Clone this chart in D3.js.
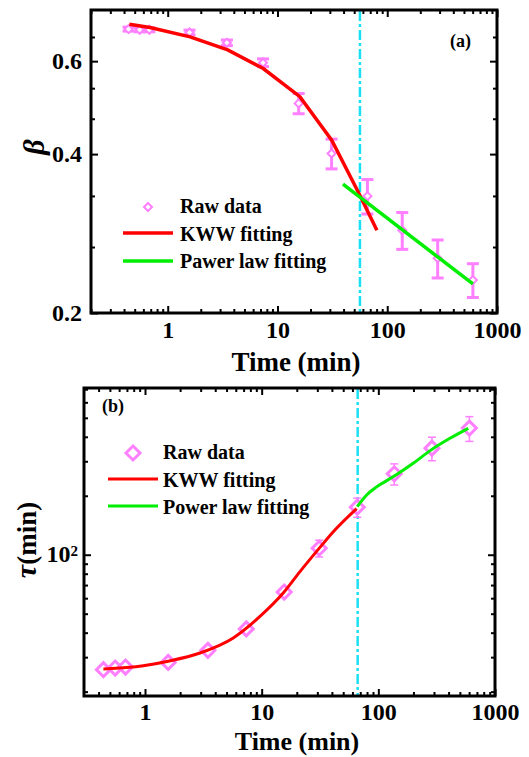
<!DOCTYPE html>
<html>
<head>
<meta charset="utf-8">
<script src="https://cdn.jsdelivr.net/npm/d3@7"></script>
<style>
  body { margin: 0; background: #fff; }
  svg text { font-family: "Liberation Serif", "Times New Roman", serif; font-weight: bold; fill: #000; }
</style>
</head>
<body>
<svg id="chart" width="529" height="757"></svg>
<script>
// Ageing times (min), shared by both panels
const times = [0.44, 0.555, 0.68, 1.58, 3.46, 7.38, 15.6, 31.1, 66, 137, 288, 603];

// (a) stretching exponent beta with error
const beta    = [0.690, 0.688, 0.688, 0.680, 0.650, 0.596, 0.499, 0.401, 0.333, 0.287, 0.254, 0.231];
const betaErr = [0.006, 0.006, 0.006, 0.007, 0.008, 0.010, 0.022, 0.026, 0.025, 0.023, 0.021, 0.017];
// KWW fit of beta
const kwwBetaT = [0.447, 0.69, 1.6, 3.52, 7.42, 16.0, 31.2, 54.4, 80.5];
const kwwBeta  = [0.705, 0.695, 0.667, 0.630, 0.581, 0.514, 0.425, 0.339, 0.287];
// power-law fit of beta
const powBetaT = [39.5, 603];
const powBeta  = [0.351, 0.227];
const crossA = 56.4;

// (b) relaxation time tau (min) with error
const tau    = [25.9, 26.4, 26.7, 28.2, 32.5, 41.8, 64.5, 108, 175, 259, 350, 443];
const tauErr = [1, 1, 1, 1, 1.5, 2, 3, 10.6, 19.6, 32, 48, 64];
// KWW fit of tau
const kwwTauT = [0.44, 0.967, 1.58, 2.96, 5.71, 9.67, 15.3, 21.3, 31.6, 41.1, 65.2];
const kwwTau  = [26.1, 27.1, 28.6, 31.5, 37.6, 48.4, 63.7, 82, 109, 131, 172];
// power-law fit of tau
const powTauT = [65.9, 79.4, 96.7, 137, 199, 282, 411, 590];
const powTau  = [176, 202, 222, 252, 293, 342, 393, 442];
const crossB = 66.5;

// tick values
const xMajor = [1, 10, 100, 1000];
const xMinorA = [0.2,0.3,0.4,0.5,0.6,0.7,0.8,0.9, 2,3,4,5,6,7,8,9, 20,30,40,50,60,70,80,90, 200,300,400,500,600,700,800,900];
const xMinorB = [0.4,0.5,0.6,0.7,0.8,0.9, 2,3,4,5,6,7,8,9, 20,30,40,50,60,70,80,90, 200,300,400,500,600,700,800,900];
const yMajorA = [0.2, 0.4, 0.6];
const yMinorA = [0.2667, 0.3333, 0.4667, 0.5333, 0.6667];
const yMajorB = [100];
const yMinorB = [20,30,40,50,60,70,80,90, 200,300,400,500,600,700];

const PINK = "#ff80ff", RED = "#ff0000", GREEN = "#00ee00", CYAN = "#19e0f5";

const svg = d3.select("#chart");

// scales
const xA = d3.scaleLog().domain([0.2, 1000]).range([91, 497]);
const yA = d3.scaleLog().domain([0.2, 0.75]).range([313, 10]);
const xB = d3.scaleLog().domain([0.3, 1000]).range([84, 495]);
const yB = d3.scaleLog().domain([19, 710]).range([696, 388]);

function frameAxes(x, y, o) {
  const g = svg.append("g");
  const [x0, x1] = x.range(), [y0, y1] = y.range();
  const add = (axis, tr, vals, size, fmt, pad) => {
    const a = g.append("g").attr("transform", tr)
      .call(axis.tickValues(vals).tickSize(size).tickPadding(pad || 3).tickFormat(fmt || ""));
    a.select(".domain").remove();
    a.selectAll(".tick line").attr("stroke", "#000").attr("stroke-width", 2);
    a.selectAll("text").style("font-size", "24px");
    return a;
  };
  add(d3.axisBottom(x), `translate(0,${y0})`, xMajor, -7, d => d3.format("d")(d), o.xPad);
  add(d3.axisBottom(x), `translate(0,${y0})`, o.xMinor, -4);
  add(d3.axisTop(x), `translate(0,${y1})`, xMajor, -7);
  add(d3.axisTop(x), `translate(0,${y1})`, o.xMinor, -4);
  if (o.yFmt) add(d3.axisLeft(y), `translate(${x0},0)`, o.yMajor, -7, o.yFmt, 9);
  else add(d3.axisLeft(y), `translate(${x0},0)`, o.yMajor, -7);
  add(d3.axisLeft(y), `translate(${x0},0)`, o.yMinor, -4);
  add(d3.axisRight(y), `translate(${x1},0)`, o.yMajor, -7);
  add(d3.axisRight(y), `translate(${x1},0)`, o.yMinor, -4);
  g.append("rect").attr("x", x0).attr("y", y1).attr("width", x1 - x0).attr("height", y0 - y1)
    .attr("fill", "none").attr("stroke", "#000").attr("stroke-width", 3);
  return g;
}

function diamond(g, cx, cy, r, sw) {
  g.append("path")
    .attr("d", `M${cx},${cy - r}L${cx + r},${cy}L${cx},${cy + r}L${cx - r},${cy}Z`)
    .attr("fill", "#fff").attr("stroke", PINK).attr("stroke-width", sw);
}

function vline(x, xv, y) {
  svg.append("line")
    .attr("x1", x(xv)).attr("x2", x(xv)).attr("y1", y.range()[1] + 1).attr("y2", y.range()[0])
    .attr("stroke", CYAN).attr("stroke-width", 2.5).attr("stroke-dasharray", "10,3,3,3");
}

// ---------- panel (a) ----------
vline(xA, crossA, yA);
const dataA = times.map((t, i) => ({ t, v: beta[i], e: betaErr[i] }));
const gA = svg.append("g");
dataA.forEach(d => {
  const cx = xA(d.t), yt = yA(d.v + d.e), yb = yA(d.v - d.e);
  gA.append("line").attr("x1", cx).attr("x2", cx).attr("y1", yt).attr("y2", yb).attr("stroke", PINK).attr("stroke-width", 3);
  [yt, yb].forEach(yy => gA.append("line").attr("x1", cx - 6).attr("x2", cx + 6).attr("y1", yy).attr("y2", yy).attr("stroke", PINK).attr("stroke-width", 3));
  diamond(gA, cx, yA(d.v), 4, 2);
});
const lineA = d3.line().x(d => xA(d[0])).y(d => yA(d[1]));
svg.append("path").datum(kwwBetaT.map((t, i) => [t, kwwBeta[i]])).attr("d", lineA)
  .attr("fill", "none").attr("stroke", RED).attr("stroke-width", 3.5);
svg.append("path").datum(powBetaT.map((t, i) => [t, powBeta[i]])).attr("d", lineA)
  .attr("fill", "none").attr("stroke", GREEN).attr("stroke-width", 3.5);

frameAxes(xA, yA, { xMinor: xMinorA, yMajor: yMajorA, yMinor: yMinorA, yFmt: d3.format(".1f"), xPad: 8 });

// legend (a)
diamond(svg, 148, 207, 4, 2);
svg.append("line").attr("x1", 123).attr("x2", 173).attr("y1", 233).attr("y2", 233).attr("stroke", RED).attr("stroke-width", 3.5);
svg.append("line").attr("x1", 123).attr("x2", 173).attr("y1", 261).attr("y2", 261).attr("stroke", GREEN).attr("stroke-width", 3.5);
[["Raw data", 213], ["KWW fitting", 241], ["Pawer law fitting", 268]].forEach(([s, y]) =>
  svg.append("text").attr("x", 180).attr("y", y).style("font-size", "20px").text(s));
svg.append("text").attr("x", 450).attr("y", 47).style("font-size", "18px").text("(a)");

svg.append("text").attr("x", 296).attr("y", 371).attr("text-anchor", "middle").style("font-size", "27px").text("Time (min)");
svg.append("text").attr("transform", "translate(33,147) rotate(-90)").attr("text-anchor", "middle").attr("dy", "0.35em")
  .style("font-size", "30px").style("font-style", "italic").text("β");

// ---------- panel (b) ----------
vline(xB, crossB, yB);
const dataB = times.map((t, i) => ({ t, v: tau[i], e: tauErr[i] }));
const gB = svg.append("g");
dataB.forEach(d => {
  const cx = xB(d.t), yt = yB(d.v + d.e), yb = yB(d.v - d.e);
  gB.append("line").attr("x1", cx).attr("x2", cx).attr("y1", yt).attr("y2", yb).attr("stroke", PINK).attr("stroke-width", 1.5);
  [yt, yb].forEach(yy => gB.append("line").attr("x1", cx - 4).attr("x2", cx + 4).attr("y1", yy).attr("y2", yy).attr("stroke", PINK).attr("stroke-width", 1.5));
});
dataB.forEach(d => diamond(gB, xB(d.t), yB(d.v), 7, 3));
const lineB = d3.line().x(d => xB(d[0])).y(d => yB(d[1])).curve(d3.curveMonotoneX);
svg.append("path").datum(kwwTauT.map((t, i) => [t, kwwTau[i]])).attr("d", lineB)
  .attr("fill", "none").attr("stroke", RED).attr("stroke-width", 3);
svg.append("path").datum(powTauT.map((t, i) => [t, powTau[i]])).attr("d", lineB)
  .attr("fill", "none").attr("stroke", GREEN).attr("stroke-width", 3);

frameAxes(xB, yB, { xMinor: xMinorB, yMajor: yMajorB, yMinor: yMinorB, yFmt: null, xPad: 7 });

// 10^2 label
const lab = svg.append("text").attr("x", 78).attr("y", yB(100)).attr("dy", "0.32em").attr("text-anchor", "end").style("font-size", "24px");
lab.append("tspan").text("10");
lab.append("tspan").attr("dy", "-0.45em").style("font-size", "15px").text("2");

// legend (b)
diamond(svg, 133, 453, 7, 3);
svg.append("line").attr("x1", 108).attr("x2", 158).attr("y1", 479).attr("y2", 479).attr("stroke", RED).attr("stroke-width", 3);
svg.append("line").attr("x1", 108).attr("x2", 158).attr("y1", 506).attr("y2", 506).attr("stroke", GREEN).attr("stroke-width", 3);
[["Raw data", 459], ["KWW fitting", 487], ["Power law fitting", 514]].forEach(([s, y]) =>
  svg.append("text").attr("x", 163).attr("y", y).style("font-size", "20px").text(s));
svg.append("text").attr("x", 102).attr("y", 412).style("font-size", "18px").text("(b)");

svg.append("text").attr("x", 297).attr("y", 750).attr("text-anchor", "middle").style("font-size", "26px").text("Time (min)");
const tl = svg.append("text").attr("transform", "translate(36,540) rotate(-90)").attr("text-anchor", "middle");
tl.append("tspan").style("font-size", "30px").style("font-style", "italic").text("τ");
tl.append("tspan").style("font-size", "27px").text("(min)");
</script>
</body>
</html>
